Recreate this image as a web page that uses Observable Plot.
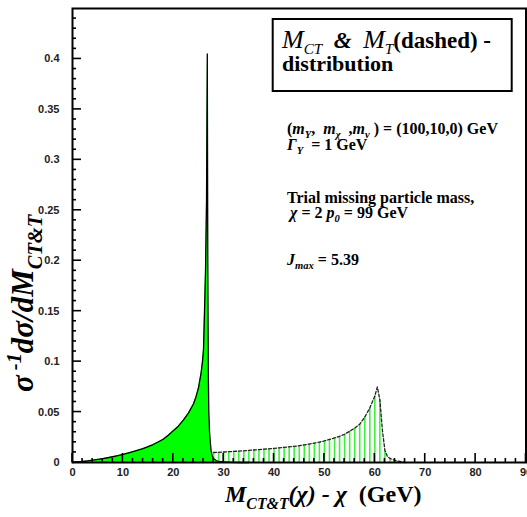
<!DOCTYPE html>
<html><head><meta charset="utf-8">
<script src="https://cdn.jsdelivr.net/npm/d3@7"></script>
<script src="https://cdn.jsdelivr.net/npm/@observablehq/plot@0.6"></script>
<style>body{margin:0;background:#fff} #chart{width:527px;height:517px}</style>
</head><body><div id="chart"></div>
<script>
// M_CT distribution (solid, filled)
const mctX = [0,1,2,3,4,5,6,7,8,9,10,11,12,13,14,15,16,17,18,19,20,21,22,23,24,24.5,25,25.5,25.8,26,26.2,26.4,26.6,26.75,26.85,26.95,27.05,27.2,27.35,27.5,27.7,28,28.5,29,30,31.5,33,35];
const mctY = [0,0.0004,0.001,0.0016,0.0023,0.003,0.0038,0.0047,0.0057,0.0068,0.008,0.0093,0.0107,0.0122,0.0138,0.0157,0.0178,0.0203,0.023,0.027,0.0315,0.036,0.042,0.049,0.058,0.065,0.074,0.088,0.1,0.112,0.15,0.19,0.26,0.405,0.2,0.09,0.05,0.03,0.02,0.012,0.007,0.004,0.002,0.001,0.0005,0.0002,0,0];
// M_T distribution (dashed, hatched)
const mtX = [28,29,30,31,32,33,34,35,36,37,38,39,40,41,42,43,44,45,46,47,48,49,50,51,52,53,54,55,56,57,58,59,60,60.5,61,61.5,62,62.5,63,64,65,66];
const mtY = [0.0099,0.0101,0.0104,0.0107,0.011,0.0113,0.0116,0.012,0.0124,0.0128,0.0132,0.0136,0.014,0.0145,0.015,0.0155,0.016,0.0167,0.0175,0.0183,0.0192,0.0202,0.0214,0.0228,0.0243,0.026,0.028,0.031,0.034,0.038,0.045,0.054,0.066,0.075,0.062,0.032,0.012,0.006,0.004,0.002,0.001,0];
// axis ticks
const xTickLabels = [0,10,20,30,40,50,60,70,80,90];
const yTickLabels = [0,0.05,0.1,0.15,0.2,0.25,0.3,0.35,0.4];
const xMinorTicks = d3.range(0, 91, 2);
const yMinorTicks = d3.range(0, 45).map(i => i / 100);

const mct = mctX.map((x, i) => ({x, y: mctY[i]}));
const mt = mtX.map((x, i) => ({x, y: mtY[i]}));
const mtHatch = mt.filter(d => Number.isInteger(d.x));

const H = 517, MT = 8, MB = 55, W = 527, ML = 72, MR = 1.5;

const plot = Plot.plot({
  width: W, height: H,
  marginLeft: ML, marginRight: MR, marginTop: MT, marginBottom: MB,
  x: {domain: [0, 90]},
  y: {domain: [0, 0.45]},
  style: {fontFamily: "'Liberation Sans', Arial, sans-serif", fontSize: "11px", fontWeight: "bold", background: "#fff", color: "#222"},
  marks: [
    Plot.ruleX(mtHatch, {x: "x", y1: 0, y2: "y", stroke: "#3cf03c", strokeWidth: 1.6}),
    Plot.areaY(mct, {x: "x", y: "y", fill: "#00ff00"}),
    Plot.line(mct, {x: "x", y: "y", stroke: "#000", strokeWidth: 1.3}),
    Plot.line(mt, {x: "x", y: "y", stroke: "#222", strokeWidth: 1.3, strokeDasharray: "3,2"}),
    Plot.frame({stroke: "#000", strokeWidth: 2}),
    Plot.axisX(xTickLabels, {tickSize: 0, tickPadding: 6, label: null}),
    Plot.axisY(yTickLabels, {tickSize: 0, tickPadding: 13, label: null, tickFormat: d => String(d)})
  ]
});
document.getElementById("chart").appendChild(plot);

const svg = d3.select(plot);
// inward tick marks, positioned through Plot's own scales
const sx = plot.scale("x"), sy = plot.scale("y");
const x0 = sx.apply(0), y0 = sy.apply(0);
const tg = svg.append("g");
for (const v of xMinorTicks) {
  const px = sx.apply(v), len = v % 10 === 0 ? 9 : 4;
  tg.append("line").attr("x1", px).attr("x2", px).attr("y1", y0).attr("y2", y0 - len)
    .attr("stroke", "#000").attr("stroke-width", 1.6);
}
for (const v of yMinorTicks) {
  const py = sy.apply(v), len = Math.round(v * 100) % 5 === 0 ? 9 : 4;
  tg.append("line").attr("y1", py).attr("y2", py).attr("x1", x0).attr("x2", x0 + len)
    .attr("stroke", "#000").attr("stroke-width", 1.6);
}

const SERIF = "'Liberation Serif', 'Times New Roman', serif";
function rich(x, y, parts, size, rotate) {
  const t = svg.append("text")
    .attr("font-family", SERIF).attr("font-size", size).attr("font-weight", "bold")
    .attr("fill", "#000").style("white-space", "pre").attr("text-anchor", "start");
  if (rotate) t.attr("transform", `translate(${x},${y}) rotate(${rotate})`);
  else t.attr("x", x).attr("y", y);
  let shift = 0;
  for (const p of parts) {
    const target = p.sub ? size * 0.28 : p.sup ? -size * 0.38 : 0;
    const s = t.append("tspan").text(p.t).attr("dy", target - shift);
    shift = target;
    if (p.sub || p.sup) s.attr("font-size", size * 0.66);
    if (p.size) s.attr("font-size", p.size);
    if (p.it) s.attr("font-style", "italic");
    if (p.nb) s.attr("font-weight", "normal");
  }
  return t;
}

// legend box
svg.append("rect").attr("x", 272.7).attr("y", 19).attr("width", 239).attr("height", 72)
  .attr("fill", "#fff").attr("stroke", "#000").attr("stroke-width", 2);
rich(282, 48, [{t: "M", it: 1, nb: 1, size: 26}, {t: "CT", sub: 1, it: 1, nb: 1}, {t: "  &  ", it: 1}, {t: "M", it: 1, nb: 1, size: 26}, {t: "T", sub: 1, it: 1, nb: 1}, {t: "(dashed) -"}], 23);
rich(282, 71, [{t: "distribution"}], 22);

// annotations
rich(287, 134, [{t: "("}, {t: "m", it: 1}, {t: "Y", sub: 1, it: 1}, {t: ",  "}, {t: "m", it: 1}, {t: "χ", sub: 1, it: 1}, {t: "  ,"}, {t: "m", it: 1}, {t: "ν", sub: 1, it: 1}, {t: " ) = (100,10,0) GeV"}], 16);
rich(287, 150, [{t: "Γ", it: 1}, {t: "Y", sub: 1, it: 1}, {t: "  = 1 GeV"}], 16);
rich(287, 203, [{t: "Trial missing particle mass,"}], 16);
rich(290, 218, [{t: "χ", it: 1}, {t: " = 2 "}, {t: "p", it: 1}, {t: "0", sub: 1, it: 1}, {t: " = 99 GeV"}], 16);
rich(287, 265, [{t: "J", it: 1}, {t: "max", sub: 1, it: 1}, {t: " = 5.39"}], 16);

// axis titles
rich(225, 502, [{t: "M", it: 1}, {t: "CT&T", sub: 1, it: 1}, {t: "(χ) - χ", it: 1}, {t: "  (GeV)"}], 24);
rich(33, 392, [{t: "σ", it: 1}, {t: " -1", sup: 1, it: 1}, {t: "dσ/dM", it: 1}, {t: "CT&T", sub: 1, it: 1}], 31, -90);
</script>
</body></html>
